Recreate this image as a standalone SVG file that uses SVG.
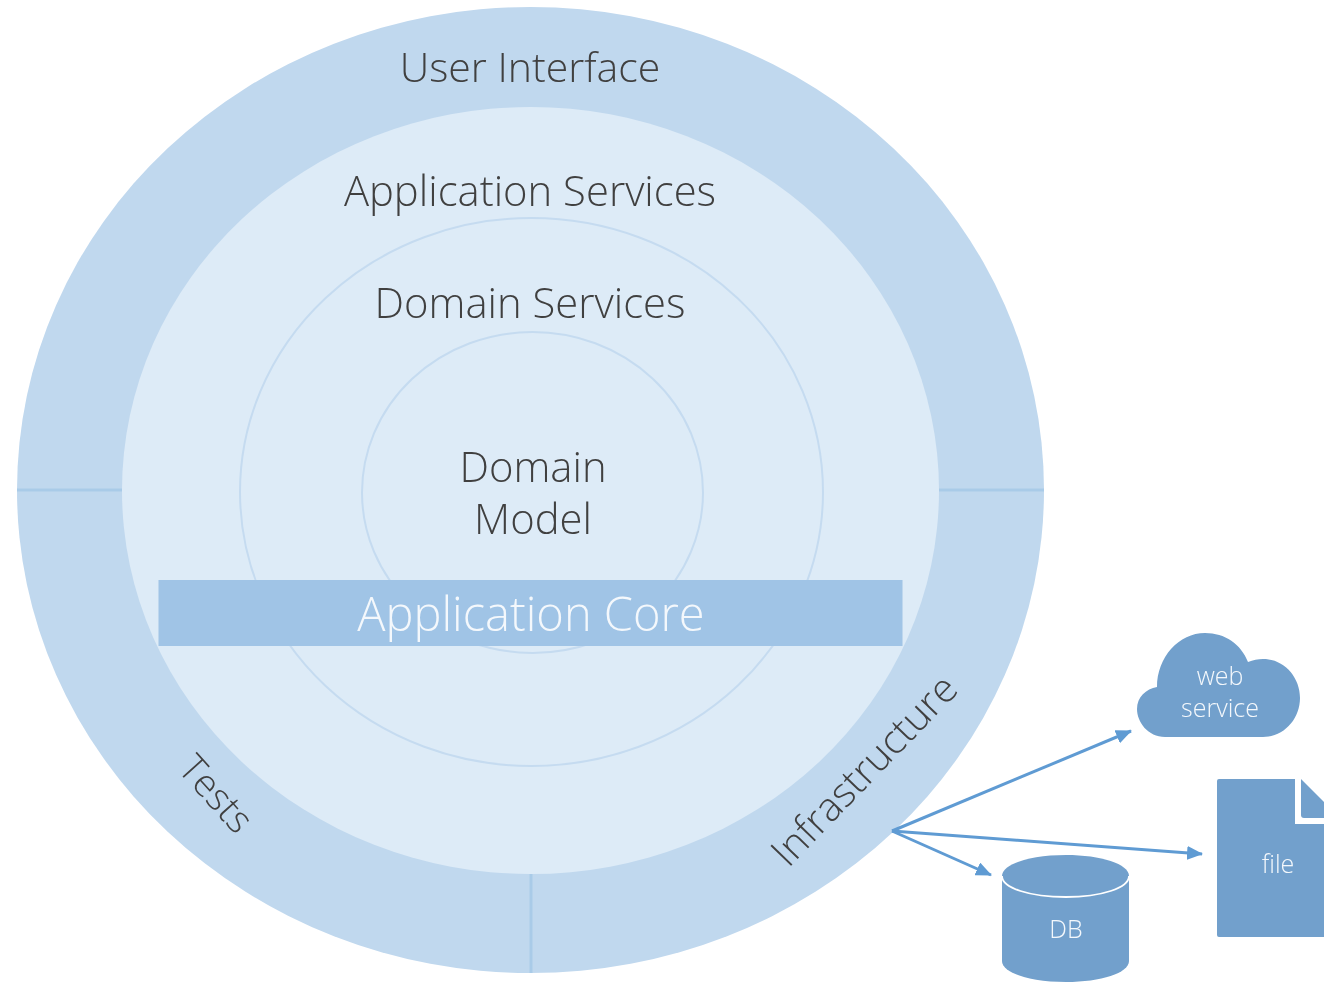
<svg xmlns="http://www.w3.org/2000/svg" width="1324" height="984" viewBox="0 0 1324 984">
<style>
text{font-family:"Open Sans","Noto Sans","Liberation Sans",sans-serif;font-weight:300;text-anchor:middle}
.d{fill:#404040;font-size:41px}
.w{fill:#f4f8fc;font-size:25px}
.ring{fill:none;stroke:#c5dbf0;stroke-width:2}
.sep{stroke:#a9cbe8;stroke-width:3;fill:none}
.dark{fill:#72a0cc}
.arrow{stroke:#5f9bd3;stroke-width:3;fill:none;marker-end:url(#head)}
</style>
<defs>
<marker id="head" viewBox="0 0 16 14" refX="15" refY="7" markerWidth="16" markerHeight="14" markerUnits="userSpaceOnUse" orient="auto"><path d="M0 0L16 7L0 14Z" fill="#5f9bd3"/></marker>
<filter id="soft" filterUnits="userSpaceOnUse" x="0" y="0" width="1324" height="984"><feGaussianBlur stdDeviation="0.55"/></filter>
</defs>
<rect width="1324" height="984" fill="#ffffff"/>
<g filter="url(#soft)">
<g id="outer-ring">
<ellipse cx="530.5" cy="490" rx="513.5" ry="483" fill="#c0d8ee"/>
<path class="sep" d="M17 490H122M939 490H1044M531 874V973"/>
<text class="d" x="530" y="82">User Interface</text>
<text class="d" transform="translate(216 794) rotate(48)" x="0" y="13" style="font-size:38px">Tests</text>
<text class="d" transform="translate(864 770) rotate(-46)" x="0" y="14" style="font-size:40px">Infrastructure</text>
</g>
<g id="application-services">
<ellipse cx="530.5" cy="490.5" rx="408.5" ry="383.5" fill="#ddebf7"/>
<text class="d" x="530" y="206" style="font-size:41.8px">Application Services</text>
</g>
<g id="domain-services">
<ellipse class="ring" cx="531.5" cy="492" rx="291.5" ry="274"/>
<text class="d" x="530" y="318" style="font-size:41.8px">Domain Services</text>
</g>
<g id="domain-model">
<ellipse class="ring" cx="532.5" cy="492.5" rx="170.5" ry="160.5"/>
<text class="d" x="533" y="482" style="font-size:41.8px">Domain</text>
<text class="d" x="533" y="534" style="font-size:41.8px">Model</text>
</g>
<g id="application-core">
<rect x="158.5" y="580" width="744" height="66" fill="#a0c4e6"/>
<text x="531" y="631" style="font-size:47px;fill:#f4f8fc">Application Core</text>
</g>
<g id="connectors">
<path class="arrow" d="M892 831L1131 731"/>
<path class="arrow" d="M892 831L1202 854"/>
<path class="arrow" d="M892 831L991 875"/>
</g>
<g id="web-service">
<path class="dark" d="M1165 737C1148 737 1137 722 1137 709C1137 697 1146 689 1157 687C1157 657 1179 633 1205 633C1225 633 1241 644 1248 662C1253 660 1258 659 1263 659C1284 659 1300 677 1300 698C1300 719 1284 737 1263 737Z"/>
<text class="w" x="1220" y="685">web</text>
<text class="w" x="1220" y="717">service</text>
</g>
<g id="file">
<path class="dark" d="M1219 779H1295V824H1324V937H1219Q1217 937 1217 935V781Q1217 779 1219 779Z"/>
<path class="dark" d="M1301 779L1324 802V818H1304Q1301 818 1301 815Z"/>
<text class="w" x="1278" y="873">file</text>
</g>
<g id="db">
<path class="dark" d="M1002 876C1002 864 1030 855 1066 855C1101 855 1129 864 1129 876V961C1129 973 1101 982 1066 982C1030 982 1002 973 1002 961Z"/>
<path d="M1002 876C1002 888 1030 897 1066 897C1101 897 1129 888 1129 876" fill="none" stroke="#fff" stroke-width="1.8"/>
<text class="w" x="1066" y="938">DB</text>
</g>
</g>
</svg>
